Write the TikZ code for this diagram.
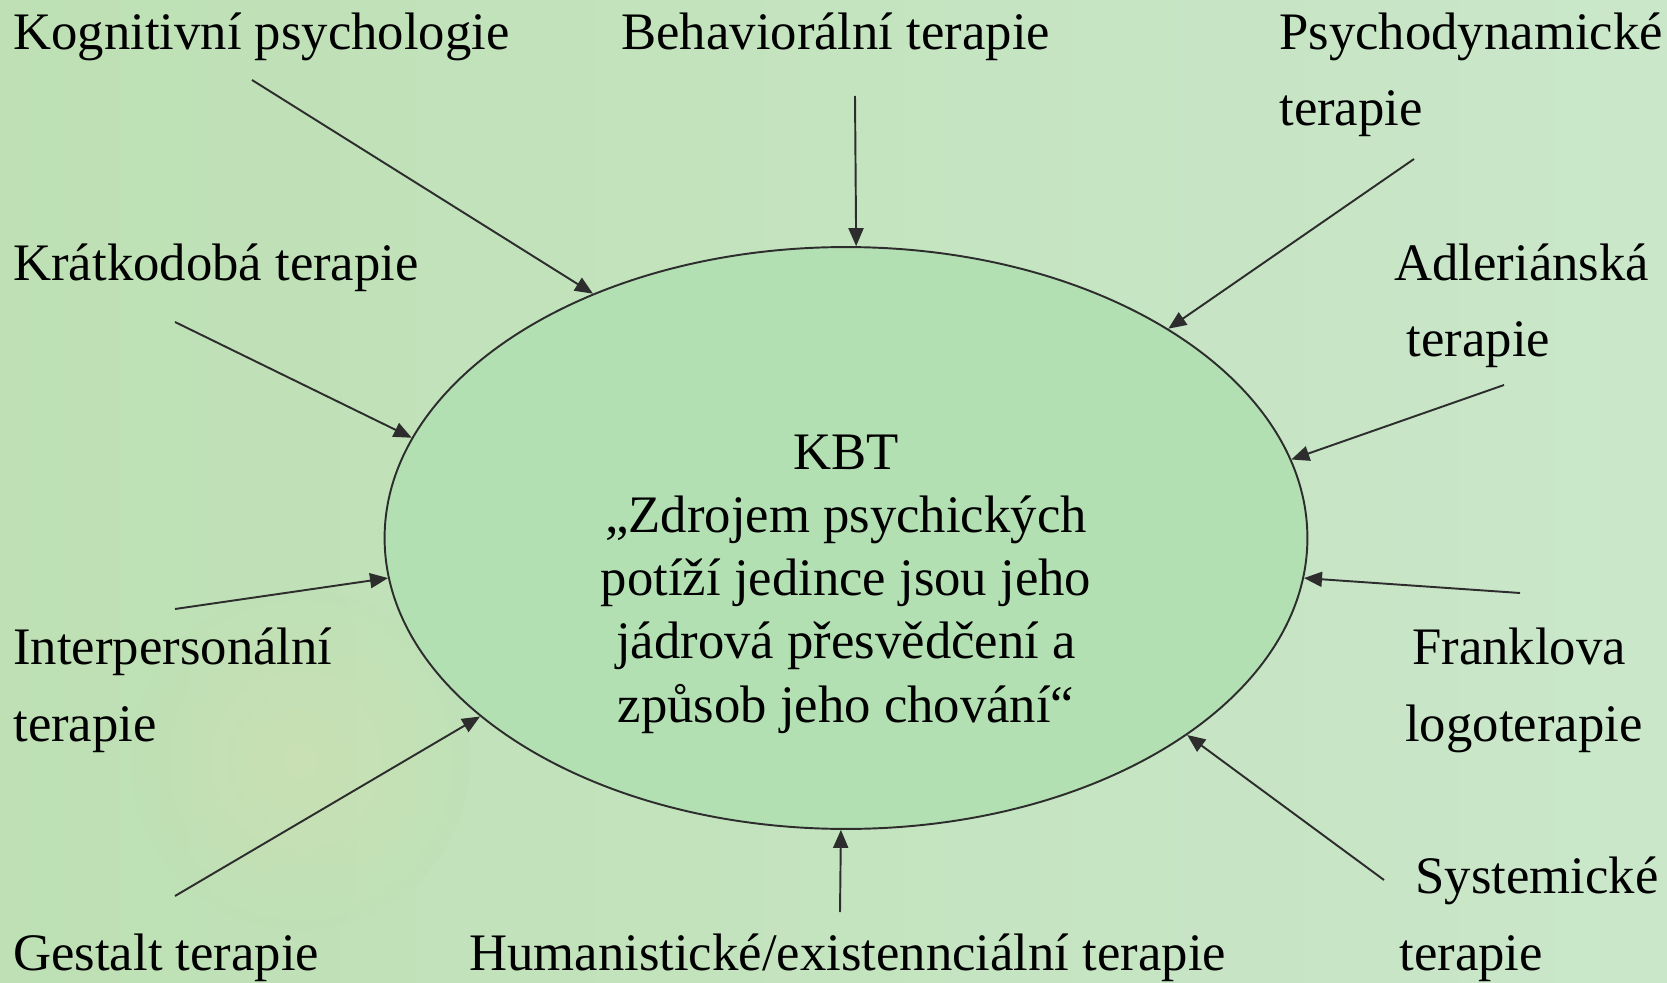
\documentclass[tikz,border=0pt]{standalone}
\usepackage{fontspec}
\setmainfont{Liberation Serif}
\usetikzlibrary{arrows.meta,shapes.geometric}

\definecolor{bgLeft}{RGB}{190,224,180}
\definecolor{bgRight}{RGB}{202,231,202}
\definecolor{bgPatch}{RGB}{214,224,172}
\definecolor{kbtGreen}{RGB}{179,224,178}
\definecolor{lineGray}{RGB}{45,45,45}

\tikzset{
  school/.style={font=\fontsize{30}{43.5}\selectfont, inner sep=0pt, anchor=base west, align=left},
  feed/.style={-{Triangle[length=0.36cm,width=0.3cm]}, line width=1.1pt, draw=lineGray},
}

\begin{document}
\begin{tikzpicture}[x=0.02cm, y=-0.02cm]
    % Parameters (pixels of the slide)
    \def\W{1667}
    \def\H{983}

    % Background
    \useasboundingbox (0,0) rectangle (\W,\H);
    \begin{scope}
      \clip (0,0) rectangle (\W,\H);
      \shade[left color=bgLeft, right color=bgRight] (0,0) rectangle (\W,\H);
      \shade[inner color=bgPatch, outer color=bgLeft, opacity=0.4] (300,760) circle (170);
    \end{scope}

    % Central ellipse
    \node[ellipse, draw=lineGray, line width=1.1pt, fill=kbtGreen,
          minimum width=18.46cm, minimum height=11.64cm, inner sep=0pt] (kbt) at (846,538) {};
    \node[font=\fontsize{30}{36}\selectfont, align=center, inner sep=0pt] (kbttext) at (846,584)
        {KBT\\„Zdrojem psychických\\potíží jedince jsou jeho\\jádrová přesvědčení a\\způsob jeho chování“};

    % Schools round the ellipse (base = last line)
    \node[school] (kog) at (13,50) {Kognitivní psychologie};
    \node[school] (beh) at (621,50) {Behaviorální terapie};
    \node[school] (psy) at (1279,126) {Psychodynamické\\terapie};
    \node[school] (kra) at (13,280) {Krátkodobá terapie};
    \node[school] (adl) at (1394,357) {Adleriánská\\\hspace*{7pt}terapie};
    \node[school] (int) at (13,741) {Interpersonální\\terapie};
    \node[school] (fra) at (1412,741) {Franklova\\\hspace*{-4pt}logoterapie};
    \node[school] (ges) at (13,970) {Gestalt terapie};
    \node[school] (hum) at (469,970) {Humanistické/existennciální terapie};
    \node[school] (sys) at (1415,970) {Systemické\\\hspace*{-9pt}terapie};

    % Start points of the arrows
    \coordinate (kog-s) at (252,80);
    \coordinate (beh-s) at (855,96);
    \coordinate (psy-s) at (1414,159);
    \coordinate (kra-s) at (175,322);
    \coordinate (adl-s) at (1504,385);
    \coordinate (int-s) at (175,609);
    \coordinate (fra-s) at (1520,593);
    \coordinate (ges-s) at (175,896);
    \coordinate (hum-s) at (840,912);
    \coordinate (sys-s) at (1384,880);

    % Arrows into the ellipse
    \draw[feed] (kog-s) -- (kbt.136.9);
    \draw[feed] (beh-s) -- (kbt.88.2);
    \draw[feed] (psy-s) -- (kbt.33.5);
    \draw[feed] (kra-s) -- (kbt.167.7);
    \draw[feed] (adl-s) -- (kbt.10);
    \draw[feed] (int-s) -- (kbt.185.1);
    \draw[feed] (fra-s) -- (kbt.355);
    \draw[feed] (ges-s) -- (kbt.206.9);
    \draw[feed] (hum-s) -- (kbt.269.3);
    \draw[feed] (sys-s) -- (kbt.330.6);
\end{tikzpicture}
\end{document}
